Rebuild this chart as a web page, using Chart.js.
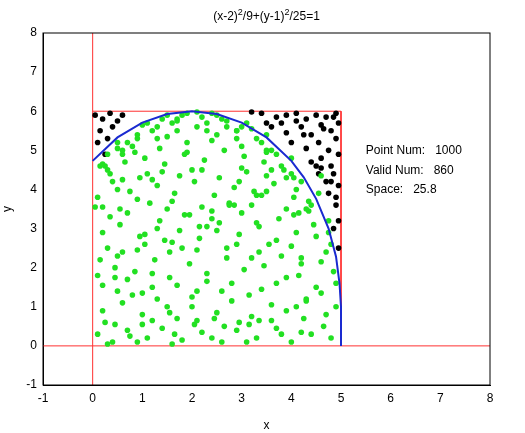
<!DOCTYPE html>
<html><head><meta charset="utf-8">
<script src="https://cdn.jsdelivr.net/npm/chart.js@4"></script>
<style>html,body{margin:0;background:#fff}#c{width:525px;height:433px}</style>
</head><body><div id="c"><canvas id="myChart"></canvas></div>
<script>
// green = inside ellipse, black = outside
const greenX = [0.1,0.4,0.7,1.1,1.4,1.8,2.2,2.6,2.9,3.3,3.7,4.0,4.4,4.8,0.3,1.6,2.4,3.1,4.2,0.9,
  0.2,0.6,1.0,1.3,1.7,2.0,2.5,2.8,3.2,3.6,3.9,4.3,4.7,4.9,0.5,1.2,2.1,3.4,4.5,0.8,
  0.1,0.45,0.85,1.25,1.55,1.95,2.3,2.7,3.05,3.45,3.8,4.15,4.6,4.85,0.3,1.8,2.9,4.0,
  0.2,0.55,0.95,1.35,1.75,2.15,2.55,2.95,3.35,3.75,4.1,4.45,4.8,0.7,1.5,2.4,3.2,4.3,
  0.1,0.5,0.9,1.3,1.65,2.05,2.45,2.85,3.25,3.65,4.05,4.4,4.75,1.1,2.2,3.5,0.35,
  0.25,0.65,1.05,1.45,1.85,2.25,2.65,3.05,3.45,3.85,4.2,4.55,0.8,1.9,3.0,4.0,
  0.15,0.5,0.9,1.3,1.7,2.1,2.5,2.9,3.3,3.7,4.05,4.35,0.6,1.6,2.7,3.6,
  0.2,0.6,1.0,1.4,1.8,2.2,2.6,3.0,3.4,3.8,4.1,1.2,2.4,3.5,
  0.3,0.7,1.1,1.5,1.9,2.3,2.7,3.1,3.5,0.5,1.7,2.9,
  0.9,1.3,1.7,2.1,2.5,2.9,3.2,1.5,2.3,
  0.25,0.75,1.2,1.65,2.05,2.45,2.95,3.35,3.8,4.25,4.65,0.45,1.0,1.5,2.0,2.6,3.15,3.6,4.1,4.6,
  0.15,0.6,1.05,1.55,2.1,2.7,3.2,3.7,4.2,4.7,0.35,0.9,1.45,1.95,2.5,3.0,3.55,4.05,4.5,4.9,
  0.05,0.55,1.15,1.6,2.2,2.75,3.3,3.9,4.35,4.75,0.4,0.95,1.4,2.0,2.55,3.1,3.6,4.15,4.6,
  0.2,0.7,1.2,1.7,2.3,2.8,3.35,3.9,4.3,0.45,1.0,1.55,2.1,2.65,3.15,3.7,4.2,
  0.3,0.85,1.35,1.9,2.4,3.0,3.5,4.0,0.6,1.2,1.75,2.3,2.85,3.4,3.9,
  0.2,0.75,1.3,1.85,2.4,2.95,3.5,0.5,1.05,1.6,2.15,2.75,3.3];
const greenY = [0.3,0.1,0.4,0.2,0.45,0.15,0.35,0.1,0.4,0.2,0.45,0.1,0.3,0.2,0.05,0.05,0.2,0.1,0.35,0.1,
  0.9,1.1,0.8,1.2,0.7,1.0,0.85,1.15,0.75,1.05,0.9,1.2,0.8,1.0,1.4,1.5,1.4,1.45,1.5,1.3,
  1.8,2.0,1.9,2.2,1.75,2.1,1.85,2.25,1.95,2.05,2.3,1.8,2.15,1.9,2.5,2.5,2.6,2.55,
  2.9,3.1,2.8,3.2,2.95,2.75,3.15,2.85,3.05,3.25,2.9,3.1,2.6,3.4,3.5,3.45,3.6,3.5,
  3.8,4.0,3.75,4.1,3.9,4.2,3.85,4.05,3.95,4.15,3.8,3.6,3.2,4.4,4.5,4.35,4.4,
  4.6,4.7,4.8,4.65,4.9,4.75,5.0,4.85,4.7,4.5,4.2,3.9,5.1,5.2,5.1,4.4,
  4.6,5.2,5.4,5.3,5.5,5.6,5.4,5.5,5.3,4.9,4.3,3.7,4.9,5.7,5.6,5.0,
  4.65,5.0,5.65,5.8,5.9,5.85,5.8,5.6,5.2,4.6,4.0,5.5,5.95,5.4,
  4.5,5.2,5.7,5.9,5.95,5.7,5.75,5.7,5.0,5.05,5.8,5.5,
  5.3,5.6,5.75,5.98,5.9,5.3,5.55,5.35,5.5,
  0.6,0.25,0.65,0.3,0.55,0.7,0.6,0.65,0.3,0.7,0.5,1.75,1.35,1.0,1.25,1.4,1.3,0.65,1.0,1.35,
  2.2,2.4,2.6,2.4,2.45,2.5,2.25,2.7,2.25,2.4,3.3,2.45,2.7,3.35,2.95,3.4,2.6,3.35,2.8,1.6,
  3.55,3.5,3.65,3.7,3.55,3.65,3.85,3.5,3.45,2.9,4.2,4.3,4.45,4.5,4.3,4.45,4.5,3.4,4.35,
  1.55,1.7,1.85,1.55,1.65,1.6,2.4,1.75,1.15,0.55,0.55,0.85,0.65,0.5,0.55,1.6,2.1,
  4.9,4.95,5.05,4.95,5.25,4.55,4.95,4.8,4.25,4.25,4.35,3.05,3.6,3.85,4.3,
  3.55,3.95,3.0,3.35,3.25,4.2,3.95,2.3,2.85,2.65,3.05,3.6,3.15];
const blackX = [0.05,0.2,0.35,0.15,0.4,0.6,0.1,0.3,0.5,0.25,
  3.4,3.7,3.9,4.1,4.3,4.5,4.7,4.9,3.6,3.9,4.2,4.4,4.6,4.8,4.95,4.0,4.3,4.55,4.75,4.9,
  4.4,4.6,4.8,4.95,4.55,4.7,4.85,4.75,4.9,4.95,3.2,3.5,4.1,4.65,4.85,3.8,4.25,4.5,4.8,4.95,
  4.6,4.85,4.95,4.9];
const blackY = [5.9,5.8,5.95,5.5,5.6,5.9,5.2,5.3,5.75,4.9,
  5.95,5.85,5.9,5.95,5.8,5.9,5.85,5.95,5.6,5.45,5.6,5.4,5.65,5.5,5.7,5.2,5.05,5.2,5.0,5.3,
  4.7,4.8,4.6,4.9,4.4,4.2,4.4,3.9,3.6,3.2,5.98,5.7,5.75,5.55,5.85,5.7,5.4,4.6,4.2,4.1,
  4.55,3.0,2.5,3.8];
// points read along the drawn ellipse arc
const curveX = [0,0.5,1,1.5,2,2.5,3,3.5,4,4.25,4.5,4.75,4.9,4.97,5,5];
const curveY = [4.73,5.33,5.71,5.93,6,5.93,5.71,5.33,4.73,4.31,3.76,3.0,2.28,1.6,1,0];
const ticks = [-1,0,1,2,3,4,5,6,7,8];
const info = ["Point Num:   1000","Valid Num:   860","Space:   25.8"];

const pts = (xs, ys) => xs.map((x, i) => ({x: x, y: ys[i]}));
const font = {family: "Liberation Sans, Arial", size: 12};

const overlay = {
  id: "overlay",
  afterDraw(chart) {
    const ctx = chart.ctx, xs = chart.scales.x, ys = chart.scales.y;
    ctx.save();
    ctx.fillStyle = "#000";
    ctx.font = "12px Liberation Sans, Arial";
    info.forEach((t, i) => ctx.fillText(t, xs.getPixelForValue(5.5), ys.getPixelForValue(4.9 - i * 0.5)));
    // title with superscripts
    const parts = [["(x-2)",0],["2",1],["/9+(y-1)",0],["2",1],["/25=1",0]];
    let w = 0;
    parts.forEach(p => { ctx.font = (p[1] ? "9px" : "12px") + " Liberation Sans, Arial"; w += ctx.measureText(p[0]).width; });
    let x = (xs.left + xs.right) / 2 - w / 2;
    parts.forEach(p => {
      ctx.font = (p[1] ? "9px" : "12px") + " Liberation Sans, Arial";
      ctx.fillText(p[0], x, p[1] ? 15 : 20);
      x += ctx.measureText(p[0]).width;
    });
    ctx.restore();
  }
};

new Chart(document.getElementById("myChart"), {
  type: "scatter",
  data: {
    datasets: [
      {data: pts(curveX, curveY), showLine: true, borderColor: "#1a2ad0", borderWidth: 2, pointRadius: 0, order: 0},
      {data: [{x:0,y:-1},{x:0,y:8}], showLine: true, borderColor: "#ff3030", borderWidth: 1, pointRadius: 0, order: 3},
      {data: [{x:-1,y:0},{x:8,y:0}], showLine: true, borderColor: "#ff3030", borderWidth: 1, pointRadius: 0, order: 3},
      {data: [{x:0,y:6},{x:5,y:6},{x:5,y:0}], showLine: true, borderColor: "#ff3030", borderWidth: 1, pointRadius: 0, order: 3},
      {data: pts(greenX, greenY), backgroundColor: "#22e022", borderWidth: 0, pointRadius: 2.8, order: 1},
      {data: pts(blackX, blackY), backgroundColor: "#000", borderWidth: 0, pointRadius: 2.8, order: 1}
    ]
  },
  options: {
    responsive: true, maintainAspectRatio: false, animation: false,
    layout: {padding: {top: 33, right: 35}},
    plugins: {legend: {display: false}, tooltip: {enabled: false}},
    scales: {
      x: {
        type: "linear", min: -1, max: 8,
        afterBuildTicks: s => { s.ticks = ticks.map(v => ({value: v})); },
        afterFit: s => { s.height = 48; },
        grid: {display: false, drawTicks: false},
        border: {color: "#000"},
        ticks: {color: "#000", font: font, padding: 6},
        title: {display: true, text: "x", color: "#000", font: font, padding: 0}
      },
      y: {
        type: "linear", min: -1, max: 8,
        afterBuildTicks: s => { s.ticks = ticks.map(v => ({value: v})); },
        afterFit: s => { s.width = 43; },
        grid: {display: false, drawTicks: false},
        border: {color: "#000"},
        ticks: {color: "#000", font: font, padding: 6},
        title: {display: true, text: "y", color: "#000", font: font, padding: 0}
      }
    }
  },
  plugins: [overlay, {
    id: "frame",
    afterDraw(chart) {
      const {ctx, chartArea: a} = chart;
      ctx.save(); ctx.strokeStyle = "#000"; ctx.lineWidth = 1;
      ctx.strokeRect(a.left, a.top, a.right - a.left, a.bottom - a.top);
      ctx.restore();
    }
  }]
});
</script>
</body></html>
